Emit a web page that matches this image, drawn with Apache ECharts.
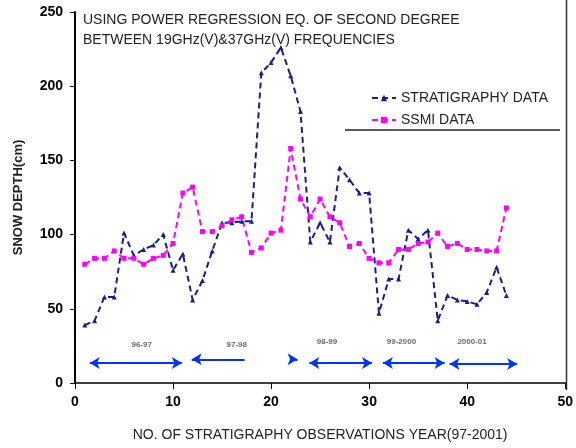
<!DOCTYPE html>
<html>
<head>
<meta charset="utf-8">
<script src="https://cdn.jsdelivr.net/npm/echarts@6/dist/echarts.min.js"></script>
<style>html,body{margin:0;padding:0;background:#fff;}#c{width:576px;height:448px;}</style>
</head>
<body>
<div id="c"></div>
<script>
// observation numbers
var obsNo = [1,2,3,4,5,6,7,8,9,10,11,12,13,14,15,16,17,18,19,20,21,22,23,24,25,26,27,28,29,30,31,32,33,34,35,36,37,38,39,40,41,42,43,44];
// STRATIGRAPHY DATA snow depth (cm)
var stratigraphy = [39,42,58,58,101,86,90,93,100,76,87,56,69,89,108,108,109,109,209,216,226,207,183,95,108,95,145,137,128,128,47,70,70,103,97,103,42,59,56,55,53,61,78,59];
// SSMI DATA snow depth (cm)
var ssmi = [80,84,84,89,84,84,80,84,86,94,128,132,102,102,106,110,112,88,91,101,103,158,124,112,124,112,108,92,94,84,81,81,90,90,94,95,101,92,94,90,90,89,89,118];
// season spans (x start, x end, y) and labels
var seasonNames = ['96-97','97-98','98-99','99-2000','2000-01'];
var seasonLabelX = [6.8,16.5,25.7,33.3,40.5];
var seasonLabelY = [25.6,25.6,27.5,27.5,27.5];
var arrowStart = [1.5,11.9,22.3,23.9,31.4,38.2];
var arrowEnd = [10.9,17.3,22.7,30.3,37.7,45.1];
var arrowY = [13.5,16,16,13.5,13.5,12.8];
var arrowHeads = [['arrow','arrow'],['arrow','none'],['none','arrow'],['arrow','arrow'],['arrow','arrow'],['arrow','arrow']];
var xTicks = {min:0,max:50,interval:10};
var yTicks = {min:0,max:250,interval:50};

function pairs(xs, ys){ return xs.map(function(x,i){ return [x, ys[i]]; }); }

var chart = echarts.init(document.getElementById('c'), null, {renderer:'canvas'});
var F = '"Liberation Sans", Arial, sans-serif';
var mlData = arrowStart.map(function(s,i){
  return [{coord:[s,arrowY[i]], symbol:arrowHeads[i][0]},{coord:[arrowEnd[i],arrowY[i]], symbol:arrowHeads[i][1]}];
});
chart.setOption({
  animation:false,
  grid:{left:75,right:10,top:12,bottom:65},
  textStyle:{fontFamily:F},
  legend:{
    orient:'vertical', left:366, top:86, itemWidth:24, itemHeight:8, itemGap:8,
    textStyle:{fontFamily:F,fontSize:14,color:'#222'},
    data:['STRATIGRAPHY DATA','SSMI DATA']
  },
  title:{
    text:'USING POWER REGRESSION EQ. OF SECOND DEGREE\nBETWEEN 19GHz(V)&37GHz(V) FREQUENCIES',
    left:78, top:5,
    textStyle:{fontFamily:F,fontSize:14,fontWeight:'normal',color:'#222',lineHeight:20}
  },
  xAxis:{
    type:'value', min:xTicks.min, max:xTicks.max, interval:xTicks.interval,
    name:'NO. OF STRATIGRAPHY OBSERVATIONS YEAR(97-2001)',
    nameLocation:'middle', nameGap:45,
    nameTextStyle:{fontFamily:F,fontSize:14,color:'#222'},
    axisLine:{lineStyle:{color:'#000',width:1.5}},
    axisTick:{show:true,inside:false,length:6,lineStyle:{color:'#000'}},
    axisLabel:{fontFamily:F,fontSize:14,fontWeight:'bold',color:'#000',margin:12},
    splitLine:{show:false}
  },
  yAxis:{
    type:'value', min:yTicks.min, max:yTicks.max, interval:yTicks.interval,
    name:'SNOW DEPTH(cm)', nameLocation:'middle', nameGap:50, nameRotate:90,
    nameTextStyle:{fontFamily:F,fontSize:13,fontWeight:'bold',color:'#222'},
    axisLine:{show:true,lineStyle:{color:'#000',width:2}},
    axisTick:{show:true,inside:false,length:5,lineStyle:{color:'#000'}},
    axisLabel:{fontFamily:F,fontSize:14,fontWeight:'bold',color:'#000',margin:12},
    splitLine:{show:false}
  },
  graphic:[
    {type:'line',shape:{x1:345,y1:130,x2:560,y2:130},style:{stroke:'#222',lineWidth:1.5},silent:true},
    {type:'line',shape:{x1:566.5,y1:0,x2:566.5,y2:390},style:{stroke:'#333',lineWidth:1.5},silent:true}
  ],
  series:[
    {
      name:'STRATIGRAPHY DATA', type:'line', data:pairs(obsNo,stratigraphy),
      symbol:'triangle', symbolSize:5, showSymbol:true,
      itemStyle:{color:'#1c1c8a'},
      lineStyle:{color:'#1c1c8a',width:2,type:[6,4]}
    },
    {
      name:'SSMI DATA', type:'line', data:pairs(obsNo,ssmi),
      symbol:'rect', symbolSize:5, showSymbol:true,
      itemStyle:{color:'#ff00ff'},
      lineStyle:{color:'#ff00ff',width:2,type:[6,4]}
    },
    {
      name:'seasons', type:'scatter', symbolSize:0,
      data:seasonNames.map(function(n,i){ return {value:[seasonLabelX[i],seasonLabelY[i]], name:n}; }),
      label:{show:true,position:'inside',formatter:'{b}',fontFamily:F,fontSize:8,fontWeight:'bold',color:'#444'},
      markLine:{
        silent:true, symbolSize:[9,10],
        lineStyle:{color:'#0033ff',width:2,type:'solid'},
        label:{show:false},
        data:mlData
      }
    }
  ]
});
</script>
</body>
</html>
